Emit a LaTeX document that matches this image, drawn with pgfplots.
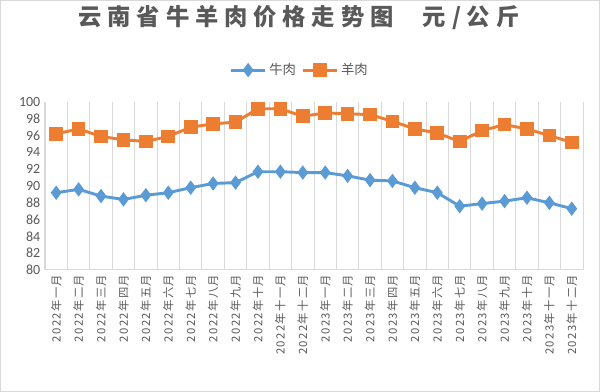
\documentclass[border=0pt]{standalone}
\usepackage{fontspec}
\usepackage{pgfplots}
\pgfplotsset{compat=1.18}
\setmainfont{Carlito}
\newfontfamily\cjk{Noto Sans CJK SC}
\definecolor{beef}{HTML}{5B9BD5}
\definecolor{lamb}{HTML}{ED7D31}
\definecolor{txt}{HTML}{595959}
\definecolor{gridc}{HTML}{D9D9D9}
\begin{document}
\begin{tikzpicture}[x=0.75pt,y=0.75pt]
\draw[gridc, line width=0.75pt] (0.5,0.5) rectangle (599.5,391.5);
\node[font=\cjk\bfseries\fontsize{17.5}{19}\selectfont\addfontfeature{LetterSpace=25}, text=txt] at (299,374) {云南省牛羊肉价格走势图\hspace{22pt}元/公斤};
\begin{axis}[
  at={(33.75pt,91.5pt)}, anchor=south west,
  scale only axis, width=403.5pt, height=126pt,
  xmin=-0.5, xmax=23.5, ymin=80, ymax=100,
  xtick={0,...,23},
  xticklabels={2022年一月,2022年二月,2022年三月,2022年四月,2022年五月,2022年六月,2022年七月,2022年八月,2022年九月,2022年十月,2022年十一月,2022年十二月,2023年一月,2023年二月,2023年三月,2023年四月,2023年五月,2023年六月,2023年七月,2023年八月,2023年九月,2023年十月,2023年十一月,2023年十二月},
  xticklabel style={rotate=90, anchor=east, font=\cjk\fontsize{8.5}{10}\selectfont\addfontfeature{LetterSpace=12}, text=txt},
  ytick={80,82,...,100},
  yticklabel style={font=\fontsize{10.5}{12}\selectfont, text=txt},
  /pgf/number format/assume math mode=true,
  minor xtick={-0.5,0.5,...,23.5},
  xminorgrids=true,
  minor grid style={gridc, line width=0.75pt},
  major tick length=0pt, minor tick length=0pt,
  axis line style={draw=none},
  legend columns=2,
  legend style={at={(0.474,1.19)}, anchor=center, draw=none, font=\cjk\fontsize{10}{11}\selectfont, text=txt, /tikz/every even column/.append style={column sep=2pt}},
  legend image code/.code={\draw[mark repeat=2,mark phase=2] plot coordinates {(0cm,0cm) (0.45cm,0cm) (0.9cm,0cm)};},
  clip=false,
]
\draw[gridc, line width=0.75pt] (rel axis cs:0,0) -- (rel axis cs:1,0);
\addplot[beef, line width=2.2pt, mark=diamond*, mark size=3.6pt, mark options={solid}] coordinates {
(0,89.2)(1,89.6)(2,88.8)(3,88.4)(4,88.9)(5,89.2)(6,89.8)(7,90.3)(8,90.4)(9,91.7)(10,91.7)(11,91.6)
(12,91.6)(13,91.2)(14,90.7)(15,90.6)(16,89.8)(17,89.2)(18,87.6)(19,87.9)(20,88.2)(21,88.6)(22,88.0)(23,87.3)};
\addlegendentry{牛肉}
\addplot[lamb, line width=2.2pt, mark=square*, mark size=4pt, mark options={solid}] coordinates {
(0,96.2)(1,96.8)(2,95.9)(3,95.5)(4,95.3)(5,95.9)(6,97.0)(7,97.4)(8,97.6)(9,99.2)(10,99.2)(11,98.3)
(12,98.7)(13,98.6)(14,98.5)(15,97.7)(16,96.8)(17,96.3)(18,95.3)(19,96.6)(20,97.3)(21,96.8)(22,96.0)(23,95.2)};
\addlegendentry{羊肉}
\end{axis}
\end{tikzpicture}
\end{document}
